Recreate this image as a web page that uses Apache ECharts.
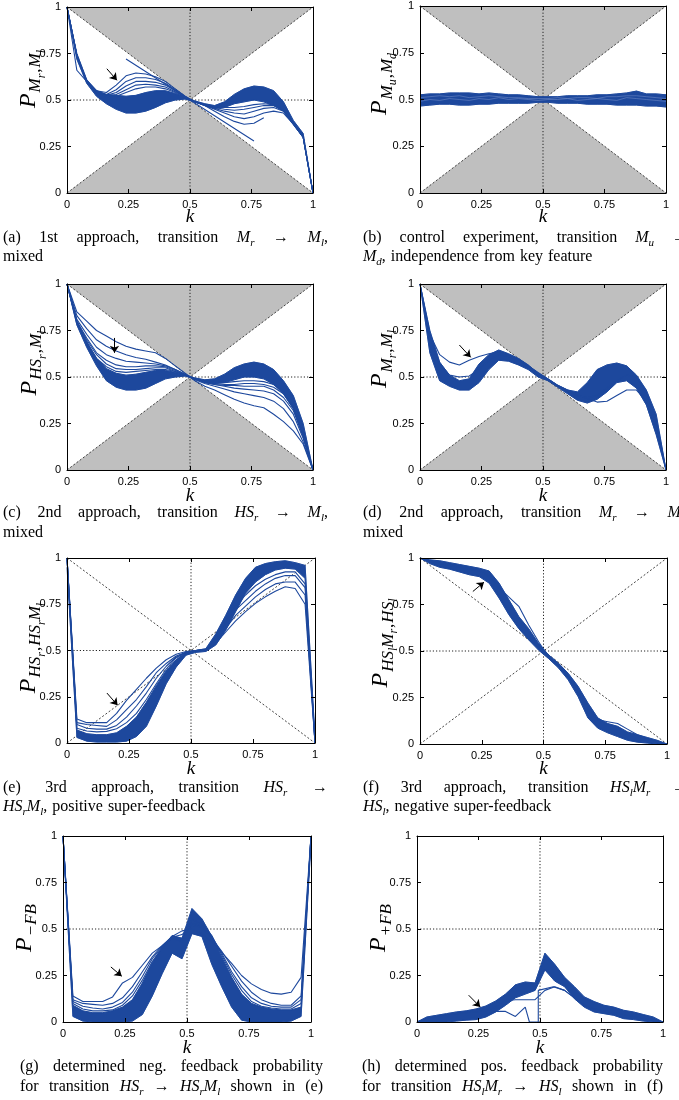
<!DOCTYPE html>
<html><head><meta charset="utf-8">
<script src="https://cdn.jsdelivr.net/npm/echarts@6/dist/echarts.min.js"></script>
<style>html,body{margin:0;padding:0;background:#fff;}#chart{width:679px;height:1100px;}</style>
</head><body><div id="chart"></div>
<script>
// ---------- shared ----------
const K = [0,0.04,0.08,0.12,0.16,0.2,0.24,0.28,0.32,0.36,0.4,0.44,0.48,0.52,0.56,0.6,0.64,0.68,0.72,0.76,0.8,0.84,0.88,0.92,0.96,1];
const TICK_LABELS = ['0','0.25','0.5','0.75','1'];
const SHADE_TOP = [[0,1],[0.5,0.5],[1,1]];
const SHADE_BOTTOM = [[0,0],[0.5,0.5],[1,0]];
const DIAG_UP = [[0,0],[1,1]];
const DIAG_DOWN = [[0,1],[1,0]];
const CROSS_V = [[0.5,0],[0.5,1]];
const CROSS_H = [[0,0.5],[1,0.5]];

// ---------- (a) ----------
const aLo = [1,.72,.59,.52,.48,.45,.43,.43,.44,.46,.485,.50,.505,.49,.47,.455,.46,.48,.49,.50,.49,.47,.44,.37,.30,0];
const aHi = [1,.75,.61,.55,.53,.525,.52,.525,.54,.55,.55,.535,.515,.495,.48,.47,.49,.53,.56,.575,.57,.55,.49,.39,.32,0];
const aS1 = [1,.66,.60,.55,.54,.58,.63,.645,.64,.625,.60,.56,.52,.49,.47,.44,.41,.385,.37,.375,.405,null,null,null,null,null];
const aS2 = [1,.74,.60,.55,.53,.555,.60,.62,.62,.61,.59,.555,.52,.49,.47,.45,.43,.41,.40,.41,.43,.44,.43,.37,.30,0];
const aS3 = [1,.74,.60,.545,.525,.54,.575,.60,.60,.595,.58,.55,.515,.49,.475,.455,.44,.43,.425,.44,.455,.46,.44,.37,.30,0];
const aS4 = [1,.74,.60,.54,.52,.53,.555,.58,.585,.58,.57,.545,.515,.49,.475,.46,.45,.445,.45,.46,.47,.47,.445,.37,.30,0];
const aS5 = [1,.74,.60,.54,.52,.52,.54,.56,.57,.57,.56,.54,.51,.49,.475,.465,.46,.46,.465,.475,.48,.475,.445,.375,.30,0];
const aLineK = [0.24,0.5,0.76];
const aLineV = [0.72,0.5,0.28];

// ---------- (b) ----------
const bLo = [.465,.47,.475,.475,.47,.47,.475,.475,.48,.48,.48,.48,.485,.485,.48,.48,.48,.475,.475,.475,.47,.47,.47,.465,.465,.46];
const bHi = [.525,.53,.53,.535,.535,.535,.53,.535,.53,.525,.525,.52,.515,.515,.515,.52,.52,.52,.525,.525,.53,.535,.545,.53,.53,.525];
const bL1 = [.49,.50,.495,.505,.50,.495,.505,.50,.51,.50,.505,.50,.495,.50,.50,.505,.495,.50,.505,.50,.495,.51,.505,.50,.495,.49];
const bL2 = [.51,.515,.52,.515,.52,.51,.515,.52,.515,.51,.51,.505,.505,.505,.51,.505,.51,.51,.505,.515,.515,.52,.52,.515,.51,.505];

// ---------- (c) ----------
const cLo = [1,.78,.66,.56,.48,.445,.43,.43,.44,.465,.49,.50,.505,.49,.47,.465,.47,.485,.50,.50,.49,.46,.41,.33,.18,0];
const cHi = [1,.80,.69,.60,.545,.52,.51,.515,.525,.535,.535,.525,.51,.495,.485,.49,.515,.55,.57,.58,.57,.54,.48,.40,.25,0];
const cT1 = [1,.85,.80,.75,.72,.69,.665,.65,.64,.63,.60,.56,.52,.48,.45,.43,.405,.38,.36,.345,.335,.30,.26,.21,.14,0];
const cT2 = [1,.83,.76,.70,.665,.64,.62,.605,.595,.58,.565,.54,.515,.485,.465,.45,.435,.42,.41,.40,.39,.37,.33,.26,.15,0];
const cT3 = [1,.81,.73,.66,.62,.60,.585,.58,.575,.57,.56,.54,.515,.49,.47,.46,.45,.44,.435,.43,.425,.41,.37,.30,.17,0];
const cT4 = [1,.80,.71,.63,.59,.565,.555,.555,.56,.56,.555,.535,.51,.49,.47,.46,.455,.455,.45,.45,.45,.43,.39,.32,.18,0];
const cT5 = [1,.80,.70,.62,.57,.545,.54,.54,.545,.55,.55,.53,.51,.49,.475,.465,.46,.46,.465,.465,.46,.445,.41,.33,.19,0];
const cT6 = [1,.79,.69,.60,.555,.53,.525,.53,.535,.54,.54,.53,.51,.49,.475,.47,.47,.475,.48,.48,.475,.46,.42,.34,.19,0];

// ---------- (d) ----------
const dLo = [1,.63,.48,.45,.43,.43,.47,.54,.59,.585,.565,.54,.50,.48,.445,.41,.375,.36,.38,.42,.47,.48,.44,.35,.19,0];
const dHi = [1,.75,.58,.51,.48,.49,.57,.62,.645,.625,.60,.565,.52,.49,.455,.43,.42,.47,.54,.565,.575,.56,.51,.43,.30,0];
const dU1 = [1,.73,.62,.58,.565,.59,.61,.625,.635,.62,.595,.56,.525,.49,.455,.43,.405,.385,.365,.37,.40,.43,.43,.37,.24,0];
const dU2 = [1,.72,.57,.51,.50,.505,.54,.59,.62,.61,.59,.56,.52,.49,.455,.425,.40,.39,.40,.44,.48,.51,.50,.42,.27,0];

// ---------- (e) ----------
const eLo = [.95,.03,.01,.005,.005,.005,.01,.035,.09,.20,.32,.41,.475,.49,.495,.53,.61,.71,.81,.87,.91,.935,.945,.94,.89,.01];
const eHi = [1,.07,.05,.045,.045,.055,.09,.14,.22,.31,.39,.45,.49,.50,.51,.59,.69,.80,.89,.95,.97,.98,.985,.975,.96,.03];
const eT1 = [1,.13,.11,.11,.11,.16,.23,.29,.35,.405,.45,.48,.495,.50,.505,.54,.60,.66,.71,.755,.79,.82,.845,.835,.75,0];
const eT2 = [1,.11,.10,.095,.09,.125,.18,.235,.305,.38,.43,.47,.49,.50,.505,.55,.62,.69,.74,.79,.83,.86,.87,.87,.80,0];
const eT3 = [1,.10,.08,.075,.075,.095,.14,.20,.27,.35,.415,.465,.49,.50,.505,.56,.64,.72,.77,.82,.86,.89,.905,.905,.84,0];
const eT4 = [1,.08,.065,.06,.063,.077,.11,.16,.235,.32,.40,.46,.49,.50,.505,.57,.66,.74,.80,.85,.885,.91,.925,.925,.86,0];

// ---------- (f) ----------
const fLo = [1,.97,.95,.94,.925,.91,.90,.865,.785,.695,.62,.56,.505,.46,.41,.345,.255,.14,.085,.06,.04,.02,.01,.005,0,0];
const fHi = [1,.99,.985,.975,.965,.955,.945,.93,.865,.775,.685,.62,.54,.48,.435,.38,.31,.22,.14,.11,.095,.065,.05,.035,.02,0];
const fS1 = [1,.985,.97,.96,.95,.94,.93,.90,.84,.79,.74,.64,.55,.47,.42,.36,.28,.19,.13,.12,.11,.08,.05,.03,.01,0];

// ---------- (g) ----------
const gLo = [1,.03,.005,0,0,0,0,.005,.04,.14,.26,.37,.34,.475,.46,.31,.19,.08,.01,0,0,0,0,.005,.03,.97];
const gHi = [1,.09,.06,.05,.05,.06,.08,.12,.21,.32,.40,.465,.45,.61,.555,.46,.35,.24,.15,.10,.08,.07,.065,.065,.08,1];
const gT1 = [1,.14,.11,.11,.11,.135,.21,.24,.305,.37,.41,.46,.49,.50,.475,.43,.375,.315,.25,.205,.175,.155,.15,.16,.24,1];
const gT2 = [1,.12,.10,.095,.09,.10,.13,.19,.27,.35,.41,.455,.47,.52,.51,.45,.38,.30,.22,.16,.12,.10,.09,.09,.14,1];
const gT3 = [1,.11,.085,.075,.07,.08,.105,.16,.245,.34,.405,.45,.45,.53,.52,.46,.37,.27,.19,.13,.10,.085,.08,.08,.12,1];
const gT4 = [1,.10,.07,.06,.06,.065,.09,.14,.225,.325,.40,.455,.43,.55,.53,.465,.36,.255,.17,.11,.085,.075,.07,.07,.10,1];

// ---------- (h) ----------
const hLo = [0,0,0,0,.005,.01,.013,.027,.054,.09,.13,.15,.17,.28,.22,.19,.125,.08,.054,.045,.036,.018,.013,.005,0,0];
const hHi = [0,.027,.036,.045,.054,.06,.07,.086,.113,.15,.20,.215,.21,.37,.31,.24,.19,.135,.11,.09,.08,.063,.054,.04,.027,0];
const hS1 = [0,.02,.03,.04,.045,.05,.055,.06,.08,.115,.12,.12,.12,.17,.19,.17,.13,.09,.07,.06,.05,.04,.03,.02,.01,0];
const hS2K = [0.28,0.32,0.36,0.40,0.44,0.457,0.493,0.493,0.554,0.60,0.64];
const hS2V = [.04,.057,.057,.03,.08,0,0,.17,.19,.17,.13];

// ---------- arrows (tail, head) ----------
const arrowA = [[0.162,0.668],[0.203,0.606]];
const arrowC = [[0.193,0.71],[0.193,0.63]];
const arrowD = [[0.16,0.672],[0.206,0.606]];
const arrowE = [[0.161,0.27],[0.204,0.204]];
const arrowF = [[0.214,0.82],[0.259,0.87]];
const arrowG = [[0.193,0.296],[0.237,0.246]];
const arrowH = [[0.21,0.144],[0.257,0.081]];

// ---------- labels ----------
const YLABELS = {
  a: '{P|P}{S|M}{SS|r}{U|,}{S|M}{SS|l}',
  b: '{P|P}{S|M}{SS|u}{U|,}{S|M}{SS|d}',
  c: '{P|P}{S|HS}{SS|r}{U|,}{S|M}{SS|l}',
  d: '{P|P}{S|M}{SS|r}{U|,}{S|M}{SS|l}',
  e: '{P|P}{S|HS}{SS|r}{U|,}{S|HS}{SS|r}{S|M}{SS|l}',
  f: '{P|P}{S|HS}{SS|l}{S|M}{SS|r}{U|,}{S|HS}{SS|l}',
  g: '{P|P}{U|−}{S|FB}',
  h: '{P|P}{U|+}{S|FB}'
};
const CAPTIONS = {
  a: '(a) 1st approach, transition $M_r$ → $M_l$,\nmixed',
  b: '(b) control experiment, transition $M_u$ →\n$M_d$, independence from key feature',
  c: '(c) 2nd approach, transition $HS_r$ → $M_l$,\nmixed',
  d: '(d) 2nd approach, transition $M_r$ → $M_l$,\nmixed',
  e: '(e) 3rd approach, transition $HS_r$ →\n$HS_rM_l$, positive super-feedback',
  f: '(f) 3rd approach, transition $HS_lM_r$ →\n$HS_l$, negative super-feedback',
  g: '(g) determined neg. feedback probability\nfor transition $HS_r$ → $HS_rM_l$ shown in (e)',
  h: '(h) determined pos. feedback probability\nfor transition $HS_lM_r$ → $HS_l$ shown in (f)'
};

// ---------- layout ----------
const BLUE = '#1d489d';
const GRAY = '#bfbfbf';
const panels = [
  {id:'a', grid:{left:67,top:7,width:246,height:186}, mode:'shade', lo:aLo, hi:aHi, curves:[{v:aS1},{v:aS2},{v:aS3},{v:aS4},{v:aS5},{k:aLineK,v:aLineV}], arrow:arrowA, yl:[28.5,79], ky:217, cap:{x0:3,x1:328,y:[238,257],just:[true,false]}},
  {id:'b', grid:{left:420,top:6,width:246,height:187}, mode:'shade', lo:bLo, hi:bHi, light:[bL1,bL2], curves:[], arrow:null, yl:[380,84], ky:217, cap:{x0:363,x1:688,y:[238,257],just:[true,false]}},
  {id:'c', grid:{left:67,top:284,width:246,height:186}, mode:'shade', lo:cLo, hi:cHi, curves:[{v:cT1},{v:cT2},{v:cT3},{v:cT4},{v:cT5},{v:cT6}], arrow:arrowC, yl:[29.5,363], ky:496, cap:{x0:3,x1:328,y:[513,533],just:[true,false]}},
  {id:'d', grid:{left:420,top:284,width:246,height:186}, mode:'shade', lo:dLo, hi:dHi, curves:[{v:dU1},{v:dU2}], arrow:arrowD, yl:[380,359], ky:496, cap:{x0:363,x1:688,y:[513,533],just:[true,false]}},
  {id:'e', grid:{left:67,top:558,width:248,height:185}, mode:'diag', lo:eLo, hi:eHi, curves:[{v:eT1},{v:eT2},{v:eT3},{v:eT4}], arrow:arrowE, yl:[28.5,648], ky:769, cap:{x0:3,x1:328,y:[788,807],just:[true,false]}},
  {id:'f', grid:{left:420,top:558,width:247,height:186}, mode:'diag', lo:fLo, hi:fHi, curves:[{v:fS1}], arrow:arrowF, yl:[381,643], ky:769, cap:{x0:363,x1:688,y:[788,807],just:[true,false]}},
  {id:'g', grid:{left:63,top:836,width:248,height:186}, mode:'cross', lo:gLo, hi:gHi, curves:[{v:gT1},{v:gT2},{v:gT3},{v:gT4}], arrow:arrowG, yl:[24.5,928], ky:1048, cap:{x0:20,x1:323,y:[1067,1087],just:[true,true]}},
  {id:'h', grid:{left:417,top:836,width:246,height:186}, mode:'cross', lo:hLo, hi:hHi, curves:[{v:hS1},{k:hS2K,v:hS2V}], arrow:arrowH, yl:[379,928], ky:1048, cap:{x0:362,x1:663,y:[1067,1087],just:[true,true]}}
];

// ---------- text helpers ----------
const SERIF = 'Liberation Serif';
const CAP_FONTS = {
  n: '16px "Liberation Serif"',
  i: 'italic 16px "Liberation Serif"',
  s: 'italic 11px "Liberation Serif"'
};
const CAP_RICH = {
  n: {fontFamily:SERIF, fontSize:16, lineHeight:16, verticalAlign:'top', color:'#000'},
  i: {fontFamily:SERIF, fontSize:16, fontStyle:'italic', lineHeight:16, verticalAlign:'top', color:'#000'},
  s: {fontFamily:SERIF, fontSize:11, fontStyle:'italic', lineHeight:11, padding:[8,0,0,0], verticalAlign:'top', color:'#000'}
};
const Y_RICH = {
  P: {fontFamily:SERIF, fontSize:24, fontStyle:'italic', lineHeight:24, verticalAlign:'top', color:'#000', padding:[0,1,0,0]},
  S: {fontFamily:SERIF, fontSize:17, fontStyle:'italic', lineHeight:17, verticalAlign:'top', color:'#000', padding:[11,0,0,0]},
  U: {fontFamily:SERIF, fontSize:17, lineHeight:17, verticalAlign:'top', color:'#000', padding:[11,1,0,1]},
  SS: {fontFamily:SERIF, fontSize:12, fontStyle:'italic', lineHeight:12, verticalAlign:'top', color:'#000', padding:[19,0,0,0]}
};
const mctx = document.createElement('canvas').getContext('2d');
function measure(font, t){ mctx.font = font; return mctx.measureText(t).width; }
function wordTokens(word){
  const out = []; let math = false; let i = 0;
  while (i < word.length){
    const c = word[i];
    if (c === '$'){ math = !math; i++; continue; }
    if (math && c === '_'){ out.push({st:'s', t:word[i+1]}); i += 2; continue; }
    const st = math ? 'i' : 'n';
    if (out.length && out[out.length-1].st === st) out[out.length-1].t += c; else out.push({st, t:c});
    i++;
  }
  return out;
}
function captionGraphics(text, cap){
  const els = [];
  text.split('\n').forEach((line, li) => {
    const words = line.split(' ').filter(w => w.length).map(w => {
      const toks = wordTokens(w);
      return {rich: toks.map(t => '{' + t.st + '|' + t.t + '}').join(''),
              w: toks.reduce((s, t) => s + measure(CAP_FONTS[t.st], t.t), 0)};
    });
    const total = words.reduce((s, w) => s + w.w, 0);
    let gap = 5;
    if (cap.just[li] && words.length > 1) gap = (cap.x1 - cap.x0 - total) / (words.length - 1);
    let x = cap.x0;
    words.forEach(w => {
      els.push({type:'text', x:x, y:cap.y[li] - 8, silent:true, z:10,
        style:{text:w.rich, rich:CAP_RICH, align:'left', verticalAlign:'top'}});
      x += w.w + gap;
    });
  });
  return els;
}

// ---------- build option ----------
const grids = [], xAxes = [], yAxes = [], series = [], graphics = [];
const labelStyle = {fontFamily:'Liberation Sans', fontSize:11, color:'#000', margin:6,
  showMinLabel:true, showMaxLabel:true, formatter: v => TICK_LABELS[Math.round(v * 4)]};
function pts(k, v){ const r = []; k.forEach((x, j) => { if (v[j] !== null && v[j] !== undefined) r.push([x, v[j]]); }); return r; }
function line(ax, data, style, z){
  return Object.assign({type:'line', data, showSymbol:false, symbol:'none', silent:true, z, lineStyle:style, emphasis:{disabled:true}, animation:false}, ax);
}
function polys(ax, list, color, z){
  return Object.assign({type:'custom', silent:true, clip:true, data:[0], z, animation:false,
    renderItem:(params, api) => ({type:'group', children: list.map(p => ({type:'polygon',
      shape:{points: p.map(q => api.coord(q))}, style:{fill:color, stroke:color, lineWidth:0.5}}))})}, ax);
}

panels.forEach((p, i) => {
  grids.push(Object.assign({show:false, containLabel:false}, p.grid));
  const base = {gridIndex:i, type:'value', min:0, max:1, interval:0.25, z:6, splitLine:{show:false},
    axisLine:{show:true, onZero:false, lineStyle:{color:'#000', width:1}},
    axisTick:{show:true, inside:true, length:4, lineStyle:{color:'#000', width:1}}};
  xAxes.push(Object.assign({}, base, {position:'bottom', axisLabel:labelStyle}));
  xAxes.push(Object.assign({}, base, {position:'top', axisLabel:{show:false}}));
  yAxes.push(Object.assign({}, base, {position:'left', axisLabel:labelStyle}));
  yAxes.push(Object.assign({}, base, {position:'right', axisLabel:{show:false}}));
  const ax = {xAxisIndex:2*i, yAxisIndex:2*i};

  if (p.mode === 'shade') series.push(polys(ax, [SHADE_TOP, SHADE_BOTTOM], GRAY, 1));
  const dotted = {color:'#222', width:1, type:[1.2, 2]};
  const diagStyle = {color:'#444', width:1, type:[2, 2]};
  if (p.mode === 'shade' || p.mode === 'diag'){
    series.push(line(ax, DIAG_UP, diagStyle, 2));
    series.push(line(ax, DIAG_DOWN, diagStyle, 2));
  }
  series.push(line(ax, CROSS_V, dotted, 2));
  series.push(line(ax, CROSS_H, dotted, 2));

  // dense band
  const band = pts(K, p.lo).concat(pts(K, p.hi).reverse());
  series.push(polys(ax, [band], BLUE, 3));
  series.push(line(ax, pts(K, p.lo), {color:BLUE, width:1}, 3));
  series.push(line(ax, pts(K, p.hi), {color:BLUE, width:1}, 3));
  (p.light || []).forEach(v => series.push(line(ax, pts(K, v), {color:'#6d88c4', width:0.6}, 3)));
  p.curves.forEach(c => series.push(line(ax, pts(c.k || K, c.v), {color:BLUE, width:1.1}, 3)));

  if (p.arrow) series.push(Object.assign({type:'lines', coordinateSystem:'cartesian2d', silent:true, z:4, animation:false,
    symbol:['none','arrow'], symbolSize:7, lineStyle:{color:'#000', width:1, opacity:1, curveness:0},
    data:[{coords:p.arrow}]}, ax));

  // axis titles
  const g = p.grid;
  graphics.push({type:'text', x:g.left + g.width / 2, y:p.ky, silent:true, z:10,
    style:{text:'k', fontFamily:SERIF, fontStyle:'italic', fontSize:19, fill:'#000', align:'center', verticalAlign:'middle'}});
  graphics.push({type:'text', x:p.yl[0], y:p.yl[1], rotation:Math.PI / 2, silent:true, z:10,
    style:{text:YLABELS[p.id], rich:Y_RICH, align:'center', verticalAlign:'middle'}});
  captionGraphics(CAPTIONS[p.id], p.cap).forEach(e => graphics.push(e));
});

const chart = echarts.init(document.getElementById('chart'), null, {renderer:'canvas'});
chart.setOption({animation:false, backgroundColor:'#fff', grid:grids, xAxis:xAxes, yAxis:yAxes, series, graphic:graphics});
</script>
</body></html>
